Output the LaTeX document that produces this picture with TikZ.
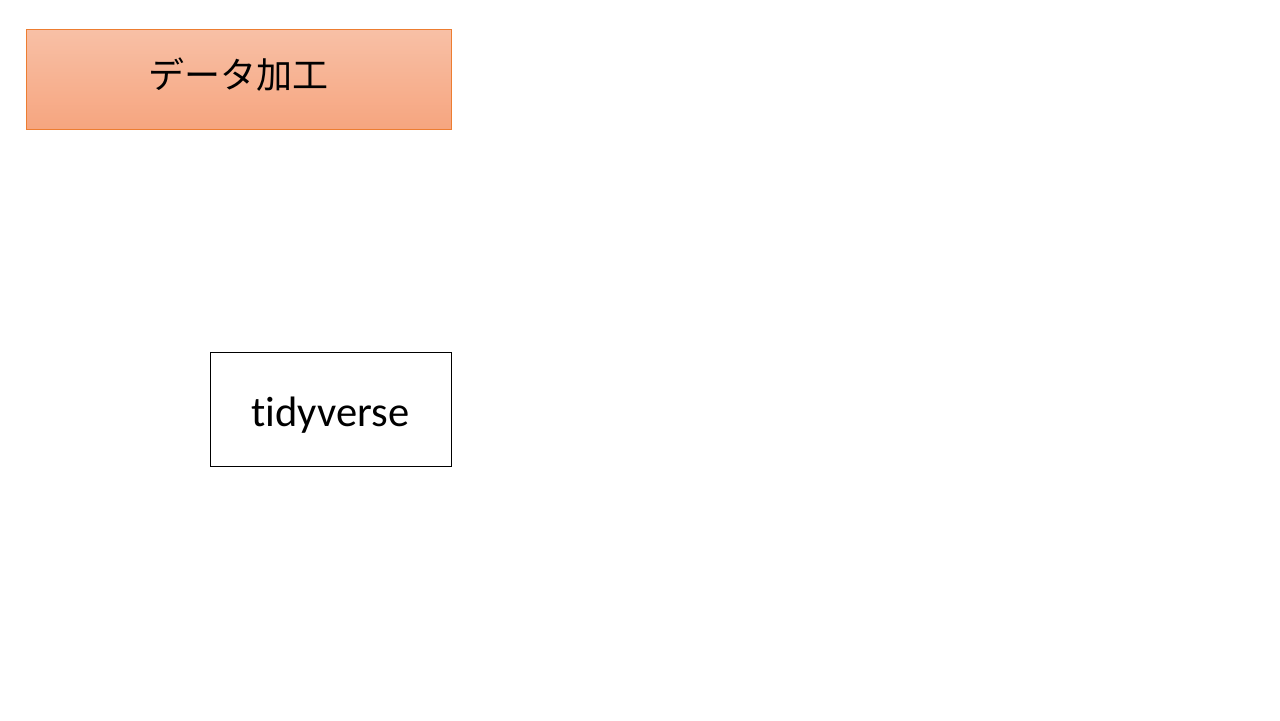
\documentclass[tikz,border=0pt]{standalone}
\usepackage{fontspec}
\setmainfont[Ligatures=NoCommon]{Carlito}
\newfontfamily\jpfont{Noto Sans CJK JP}
\definecolor{boxline}{HTML}{ED7D31}
\definecolor{boxtop}{HTML}{F8C0A6}
\definecolor{boxbottom}{HTML}{F6A57F}
\begin{document}
\begin{tikzpicture}[
    topic/.style={draw=boxline, top color=boxtop, bottom color=boxbottom,
        minimum width=8.5cm, minimum height=2cm, inner sep=0pt,
        text height=10.8pt, text depth=0pt,
        font=\jpfont\fontsize{20.5}{24}\selectfont},
    tool/.style={draw=black, fill=white, minimum width=4.82cm, minimum height=2.28cm,
        inner sep=0pt, text height=19.4pt, text depth=0pt,
        font=\fontsize{24.2}{28}\selectfont}]

    % page size
 \useasboundingbox (0,0) rectangle (25.6,-14.4);

    % boxes
 \node[topic] (kakou) at (4.77,-1.58) {データ加工};
 \node[tool] (tidy) at (6.61,-8.18) {tidyverse};
\end{tikzpicture}
\end{document}
